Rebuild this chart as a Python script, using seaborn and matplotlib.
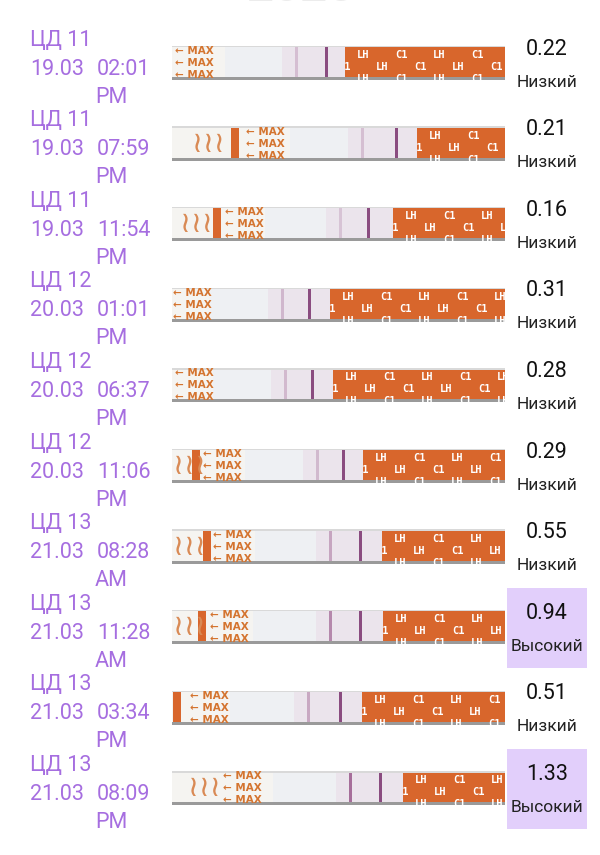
import matplotlib
matplotlib.use("Agg")
import matplotlib.pyplot as plt
import seaborn as sns

# Test log data
cycle_days = [11, 11, 11, 12, 12, 12, 13, 13, 13, 13]
dates = ["19.03", "19.03", "19.03", "20.03", "20.03", "20.03", "21.03", "21.03", "21.03", "21.03"]
times = ["02:01", "07:59", "11:54", "01:01", "06:37", "11:06", "08:28", "11:28", "03:34", "08:09"]
ampm = ["PM", "PM", "PM", "PM", "PM", "PM", "AM", "AM", "PM", "PM"]
lh_values = [0.22, 0.21, 0.16, 0.31, 0.28, 0.29, 0.55, 0.94, 0.51, 1.33]
levels = ["Низкий", "Низкий", "Низкий", "Низкий", "Низкий", "Низкий", "Низкий",
          "Высокий", "Низкий", "Высокий"]

# Strip photo layout (pixel x positions within the strip)
max_start = [175, 246, 225, 173, 175, 203, 213, 210, 190, 223]
window_start = [225, 290, 265, 210, 213, 245, 255, 253, 230, 273]
test_x = [296, 362, 340, 282, 285, 317, 330, 330, 308, 350]
control_x = [326, 396, 368, 309, 312, 343, 360, 360, 340, 380]
orange_start = [345, 417, 393, 330, 333, 363, 382, 383, 362, 403]
wave_x = [None, 192, 180, None, None, 173, 173, 173, None, 188]
bar_x = [None, 231, 213, None, None, 192, 203, 198, 173, None]

sns.set_theme(style="white")
plt.rcParams["font.family"] = ["Roboto", "DejaVu Sans"]

PITCH = 80.6
ROW0 = 63
PX = 1 / PITCH

fig = plt.figure(figsize=(6, 8.55), dpi=100)
ax = fig.add_axes([0, 0, 1, 1])
ax.set_xlim(0, 600)
ax.set_ylim((855 - ROW0) / PITCH, -ROW0 / PITCH)
ax.axis("off")

purple = "#a66ee0"
orange = "#d8662c"
strip_left, strip_right = 172, 505
h = 34 * PX

# faint header peeking at the top
ax.text(300, (10 - ROW0) * PX, "2025", ha="center", va="bottom", fontsize=34,
        color="#ececec", fontweight="bold")

for i in range(len(lh_values)):
    c = i
    # left labels
    ax.text(30, c - 23 * PX, f"ЦД {cycle_days[i]}", color=purple, fontsize=15.5, va="center")
    ax.text(30, c + 6 * PX, dates[i], color=purple, fontsize=15.5, va="center")
    ax.text(97, c + 6 * PX, times[i], color=purple, fontsize=15.5, va="center")
    ax.text(95, c + 34 * PX, ampm[i], color=purple, fontsize=15.5, va="center")

    # strip body
    base = ax.barh(c, strip_right - strip_left, left=strip_left, height=h,
                   color="#f5f4f1", linewidth=0)[0]
    ax.barh(c, orange_start[i] - window_start[i], left=window_start[i], height=h,
            color="#eef0f3", linewidth=0)
    ax.barh(c, orange_start[i] - test_x[i] + 14, left=test_x[i] - 14, height=h,
            color="#ebe4ec", linewidth=0)
    ax.barh(c, 3, left=test_x[i] - 1.5, height=h, color="#9a5a8c",
            alpha=min(0.15 + 0.55 * lh_values[i], 0.85), linewidth=0)
    ax.barh(c, 3, left=control_x[i] - 1.5, height=h, color="#8a4c80", linewidth=0)
    if bar_x[i] is not None:
        ax.barh(c, 8, left=bar_x[i], height=h, color=orange, linewidth=0)
    if wave_x[i] is not None:
        ax.text(wave_x[i], c, "≀≀≀", family="DejaVu Sans", fontsize=21, color="#d98a55",
                va="center", ha="left")
    for dy in (-12, 0, 12):
        t = ax.text(max_start[i], c + dy * PX, "← MAX", family="DejaVu Sans", fontsize=7.5,
                    fontweight="bold", color="#d4742f", va="center", ha="left")
        t.set_clip_path(base)
        t.set_clip_on(True)

    orect = ax.barh(c, strip_right - orange_start[i], left=orange_start[i], height=h,
                    color=orange, linewidth=0)[0]
    for k, dy in enumerate((-8, 4, 16)):
        shift = 0 if k % 2 == 0 else -19
        for j in range(-1, 10):
            x = orange_start[i] + 12 + shift + 38 * j
            if x < orange_start[i] - 14 or x > strip_right:
                continue
            lab = "LH" if (j + k) % 2 == 0 else "C1"
            t = ax.text(x, c + dy * PX, lab, family="DejaVu Sans Mono", fontsize=7.5,
                        fontweight="bold", color="white", va="center", ha="left")
            t.set_clip_path(orect)
            t.set_clip_on(True)

    # shadow edges
    ax.barh(c + 15.5 * PX, strip_right - strip_left, left=strip_left, height=3 * PX,
            color="#9a9a9a", linewidth=0)
    ax.barh(c - 16.5 * PX, strip_right - strip_left, left=strip_left, height=1.5 * PX,
            color="#d9d9d9", linewidth=0)

    # value box
    if levels[i] == "Высокий":
        ax.barh(c + 1 * PX, 80, left=507, height=80 * PX, color="#e2cffb", linewidth=0)
    ax.text(547, c - 14 * PX, f"{lh_values[i]:.2f}", fontsize=15.5, color="#111111",
            ha="center", va="center")
    ax.text(547, c + 19 * PX, levels[i], fontsize=12.5, color="#222222",
            ha="center", va="center")

fig.savefig("out.png", dpi=100)
